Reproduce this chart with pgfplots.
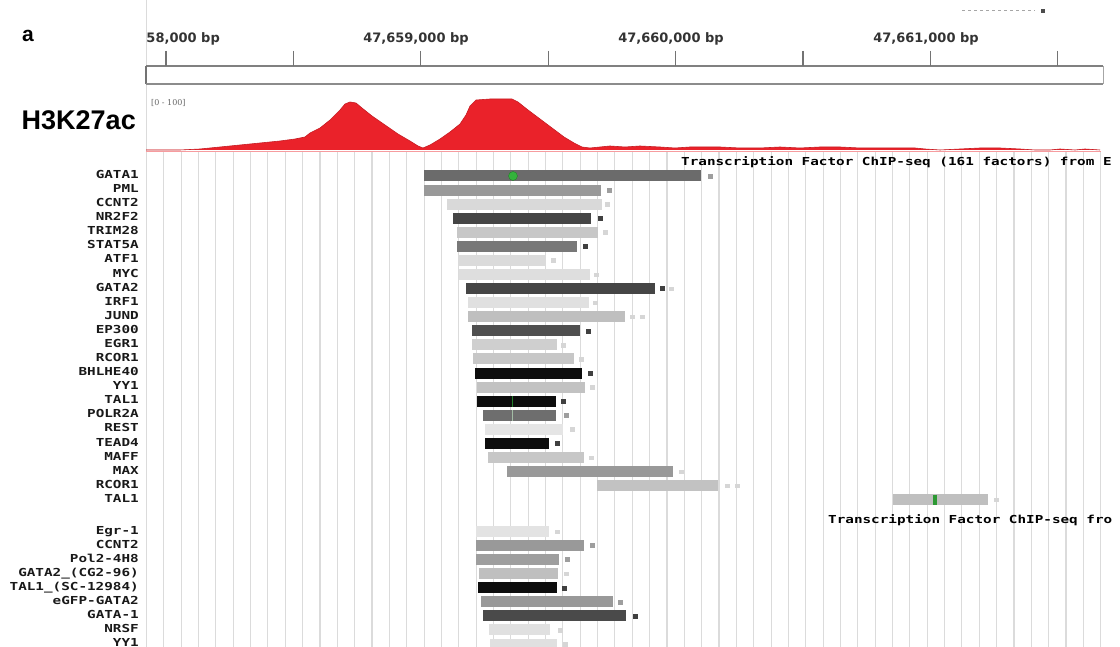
\documentclass[border=0pt]{standalone}
\usepackage{fontspec}
\setmainfont{DejaVu Sans}
\newfontfamily\arialf{Liberation Sans}
\newfontfamily\seriff{DejaVu Serif}
\newfontfamily\monof[FakeStretch=1.3]{DejaVu Sans Mono}
\usepackage{pgfplots}
\pgfplotsset{compat=1.18}
\definecolor{tfred}{RGB}{234,34,42}
\definecolor{tfgreen}{RGB}{52,180,60}
\newcommand\labfont{\monof\bfseries\fontsize{11}{11}\selectfont}
\newcommand\tfbar[4]{\addplot[line width=11pt, color=#4, forget plot] coordinates {(#1,#3) (#2,#3)};}
\newcommand\tflab[2]{\node[anchor=base east, inner sep=0pt, font=\labfont, text=black!90] at (axis cs:139,#1) {#2};}
\begin{document}
\begin{tikzpicture}
\begin{axis}[
  scale only axis, width=1120pt, height=647pt,
  xmin=0, xmax=1120, ymin=0, ymax=647, y dir=reverse,
  axis line style={draw=none}, tick style={draw=none},
  xtick={146.45,163.8,...,1101}, xticklabels={}, ytick=\empty,
  xmajorgrids, major grid style={black!14, line width=1.1pt},
  clip=true,
]
% cover grid in the top area
\addplot[fill=white, draw=none, forget plot] coordinates {(147.2,-2) (1122,-2) (1122,152) (147.2,152)};
% ruler
\addplot[black!50, line width=1.4pt, forget plot] coordinates {(146,66) (1103,66)};
\addplot[black!55, line width=1.2pt, forget plot] coordinates {(146,84) (146,66)};
\addplot[black!45, line width=2.6pt, forget plot] coordinates {(146,84) (1103,84)};
\addplot[black!35, line width=0.8pt, forget plot] coordinates {(1103,66) (1103,84)};
\addplot[black!55, line width=1.2pt, forget plot] coordinates {(166,51)(166,66)};
\addplot[black!55, line width=1.2pt, forget plot] coordinates {(293.4,51)(293.4,66)};
\addplot[black!55, line width=1.2pt, forget plot] coordinates {(420.8,51)(420.8,66)};
\addplot[black!55, line width=1.2pt, forget plot] coordinates {(548.2,51)(548.2,66)};
\addplot[black!55, line width=1.2pt, forget plot] coordinates {(675.6,51)(675.6,66)};
\addplot[black!55, line width=1.2pt, forget plot] coordinates {(803,51)(803,66)};
\addplot[black!55, line width=1.2pt, forget plot] coordinates {(930.4,51)(930.4,66)};
\addplot[black!55, line width=1.2pt, forget plot] coordinates {(1057.8,51)(1057.8,66)};
\addplot[black!35, dashed, line width=0.8pt, forget plot] coordinates {(962,10)(1035,10)};
\addplot[only marks, mark=square*, mark size=1.5pt, black!70, forget plot] coordinates {(1043,11)};
% H3K27ac signal
\addplot[fill=tfred, draw=tfred!85!black, line width=0.6pt] coordinates {
(146,150) (180,150) (200,149) (220,147) (240,145) (260,143) (280,141) (295,139)
(305,137) (310,133) (320,128) (330,120) (340,110) (345,104) (350,102) (356,103)
(362,108) (372,116) (385,125) (398,134) (410,141) (418,146) (423,148) (430,145)
(440,139) (450,132) (460,124) (466,115) (470,106) (476,100) (490,99) (512,99)
(518,102) (528,110) (540,119) (552,128) (564,137) (574,143) (582,147) (590,148)
(600,147) (610,146) (625,147) (640,146) (660,147) (675,148) (690,147) (700,147)
(720,147) (740,148) (760,148) (780,147) (800,148) (820,147) (840,147) (860,148)
(880,148) (900,148) (915,148) (925,149) (940,150) (960,149) (980,148) (1000,148)
(1020,149) (1035,150) (1050,150) (1060,149) (1075,150) (1085,149) (1100,150)};
\addplot[tfred!45, line width=1pt] coordinates {(146,152) (1101,152)};
% ChIP-seq bars, group 1
\tfbar{424}{701}{176.0}{black!58}
\tfbar{424}{601}{190.1}{black!40}
\tfbar{447}{602}{204.2}{black!15}
\tfbar{453}{591}{218.2}{black!73}
\tfbar{457}{598}{232.3}{black!22}
\tfbar{457}{577}{246.4}{black!53}
\tfbar{458}{546}{260.5}{black!14}
\tfbar{459}{590}{274.6}{black!13}
\tfbar{466}{655}{288.6}{black!73}
\tfbar{468}{589}{302.7}{black!12}
\tfbar{468}{625}{316.8}{black!25}
\tfbar{472}{580}{330.9}{black!69}
\tfbar{472}{557}{345.0}{black!19}
\tfbar{473}{574}{359.0}{black!22}
\tfbar{475}{582}{373.1}{black!95}
\tfbar{477}{585}{387.2}{black!24}
\tfbar{477}{556}{401.3}{black!95}
\tfbar{483}{556}{415.4}{black!57}
\tfbar{485}{563}{429.4}{black!10}
\tfbar{485}{549}{443.5}{black!95}
\tfbar{488}{584}{457.6}{black!22}
\tfbar{507}{673}{471.7}{black!40}
\tfbar{597}{718}{485.8}{black!24}
\tfbar{893}{988}{499.8}{black!25}
% group 2
\tfbar{476}{549}{531.5}{black!11}
\tfbar{476}{584}{545.6}{black!40}
\tfbar{476}{559}{559.6}{black!38}
\tfbar{479}{558}{573.7}{black!25}
\tfbar{478}{557}{587.7}{black!95}
\tfbar{481}{613}{601.8}{black!40}
\tfbar{483}{626}{615.9}{black!71}
\tfbar{489}{550}{629.9}{black!12}
\tfbar{490}{557}{644.0}{black!12}
% green markers
\addplot[only marks, mark=*, mark size=4.5pt, mark options={fill=tfgreen, draw=tfgreen!70!black}] coordinates {(513,176)};
\addplot[tfgreen!70!black, line width=1pt] coordinates {(512,396) (512,406.5)};
\addplot[tfgreen!50!black!40, line width=1pt] coordinates {(512,410) (512,420.5)};
\addplot[tfgreen!85!black, line width=4pt] coordinates {(935,494.5) (935,505)};
% score marks
\addplot[only marks, mark=square*, mark size=2pt, black!75] coordinates {
(600,218.2) (585,246.4) (662,288.6) (588,330.9) (590,373.1) (563,401.3) (557,443.5) (564,587.7) (635,615.9)};
\addplot[only marks, mark=square*, mark size=2pt, black!38] coordinates {
(609,190.1) (566,415.4) (592,545.6) (567,559.6) (620,601.8) (710,176.0)};
\addplot[only marks, mark=square*, mark size=1.8pt, black!16] coordinates {
(607,204.2) (605,232.3) (553,260.5) (596,274.6) (671,288.6) (595,302.7) (632,316.8) (642,316.8)
(563,345.0) (581,359.0) (592,387.2) (572,429.4) (591,457.6) (681,471.7) (727,485.8) (737,485.8)
(996,499.8) (557,531.5) (566,573.7) (560,629.9) (565,644.0)};
% texts
\node[anchor=base west, inner sep=0pt, font=\arialf\bfseries\fontsize{21}{21}\selectfont] at (axis cs:22,42) {a};
\node[anchor=base east, inner sep=0pt, font=\arialf\bfseries\fontsize{27}{27}\selectfont] at (axis cs:136,130) {H3K27ac};
\node[anchor=west, inner sep=0pt, font=\seriff\fontsize{8}{8}\selectfont, text=black!60] at (axis cs:151,103) {[0 - 100]};
\node[anchor=base east, inner sep=0pt, font=\bfseries\fontsize{13}{13}\selectfont, text=black!80] at (axis cs:220,43) {58,000 bp};
\node[anchor=base, inner sep=0pt, font=\bfseries\fontsize{13}{13}\selectfont, text=black!80] at (axis cs:416,43) {47,659,000 bp};
\node[anchor=base, inner sep=0pt, font=\bfseries\fontsize{13}{13}\selectfont, text=black!80] at (axis cs:671,43) {47,660,000 bp};
\node[anchor=base, inner sep=0pt, font=\bfseries\fontsize{13}{13}\selectfont, text=black!80] at (axis cs:926,43) {47,661,000 bp};
\node[anchor=base west, inner sep=0pt, font=\labfont] at (axis cs:681,166) {Transcription Factor ChIP-seq (161 factors) from E};
\node[anchor=base west, inner sep=0pt, font=\labfont] at (axis cs:828,523) {Transcription Factor ChIP-seq fro};
\tflab{178.5}{GATA1}
\tflab{192.6}{PML}
\tflab{206.7}{CCNT2}
\tflab{220.7}{NR2F2}
\tflab{234.8}{TRIM28}
\tflab{248.9}{STAT5A}
\tflab{263.0}{ATF1}
\tflab{277.1}{MYC}
\tflab{291.1}{GATA2}
\tflab{305.2}{IRF1}
\tflab{319.3}{JUND}
\tflab{333.4}{EP300}
\tflab{347.5}{EGR1}
\tflab{361.5}{RCOR1}
\tflab{375.6}{BHLHE40}
\tflab{389.7}{YY1}
\tflab{403.8}{TAL1}
\tflab{417.9}{POLR2A}
\tflab{431.9}{REST}
\tflab{446.0}{TEAD4}
\tflab{460.1}{MAFF}
\tflab{474.2}{MAX}
\tflab{488.3}{RCOR1}
\tflab{502.3}{TAL1}
\tflab{534.0}{Egr-1}
\tflab{548.1}{CCNT2}
\tflab{562.1}{Pol2-4H8}
\tflab{576.2}{GATA2\_(CG2-96)}
\tflab{590.2}{TAL1\_(SC-12984)}
\tflab{604.3}{eGFP-GATA2}
\tflab{618.4}{GATA-1}
\tflab{632.4}{NRSF}
\tflab{646.5}{YY1}
\end{axis}
\pgfresetboundingbox
\useasboundingbox (current axis.south west) rectangle (current axis.north east);
\end{tikzpicture}
\end{document}
